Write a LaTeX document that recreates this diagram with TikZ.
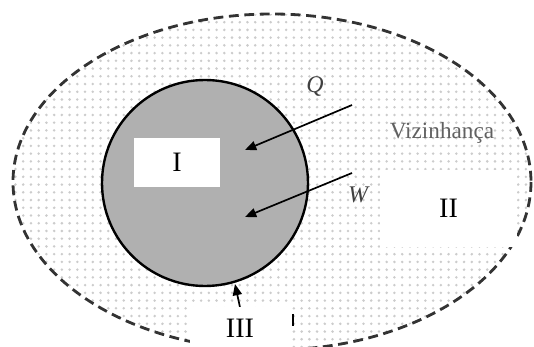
\documentclass[tikz,border=0pt]{standalone}
\usepackage{fontspec}
\setmainfont{Liberation Serif}
\usetikzlibrary{arrows.meta, patterns.meta}

\tikzset{
  flow/.style={line width=1.2pt, -{Triangle[length=8pt,width=6.5pt]}},
  whitebox/.style={fill=white, inner sep=0pt, font=\fontsize{20}{22}\selectfont},
  sym/.style={font=\fontsize{17}{19}\selectfont\itshape, text=black!75}
}

\begin{document}
\begin{tikzpicture}[x=0.025cm, y=-0.025cm]
  \useasboundingbox (0,0) rectangle (534,347);
  % surroundings
  \draw[line width=2pt, dash pattern=on 7pt off 4pt, draw=black!80,
        pattern={Dots[distance=5.5pt, radius=1pt]}, pattern color=gray!40]
        (272,182) ellipse [x radius=259, y radius=168];
  % system
  \node[circle, draw, line width=1.7pt, fill=gray!62, minimum size=206*0.025cm] (sys) at (205,183) {};
  \node[font=\fontsize{16.5}{18}\selectfont, text=black!62] (viz) at (442,133) {Vizinhança};
  % heat and work
  \coordinate (qs) at (352,105);
  \coordinate (qe) at (245,150);
  \coordinate (ws) at (352,173);
  \coordinate (we) at (245,217);
  \draw[flow] (qs) -- (qe);
  \draw[flow] (ws) -- (we);
  \node[sym] (q) at (315,87) {Q};
  \node[sym] (w) at (358,195) {W};
  % boundary
  \coordinate (bs) at (241,312);
  \coordinate (be) at (235,284);
  \draw[flow] (bs) -- (be);
  \coordinate (ts) at (293,314);
  \coordinate (te) at (293,326);
  \draw[line width=1.2pt] (ts) -- (te);
  % labels
  \node[whitebox, minimum width=86*0.025cm, minimum height=49*0.025cm] (one) at (177,162.5) {I};
  \node[whitebox, minimum width=137*0.025cm, minimum height=77*0.025cm] (two) at (448.5,208.5) {II};
  \node[whitebox, minimum width=100*0.025cm, minimum height=42*0.025cm] (three) at (240,328) {III};
\end{tikzpicture}
\end{document}
